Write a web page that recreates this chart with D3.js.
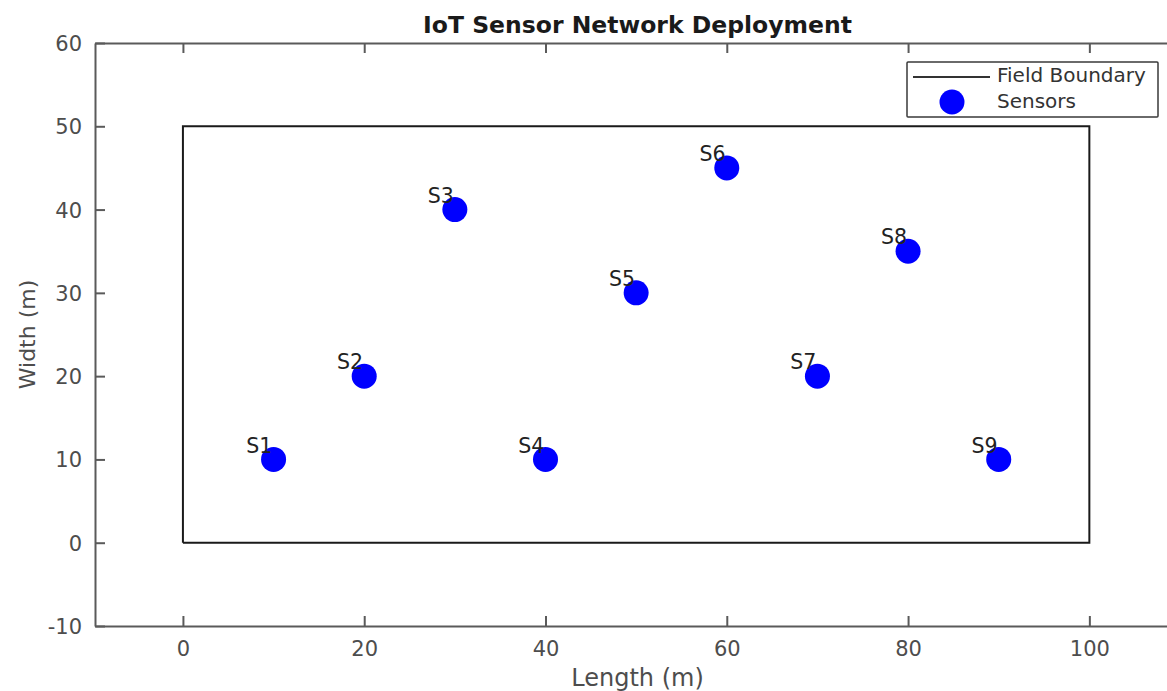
<!DOCTYPE html>
<html>
<head>
<meta charset="utf-8">
<script src="https://cdn.jsdelivr.net/npm/d3@7"></script>
<style>
  body { margin: 0; background: #fff; }
  svg { display: block; }
  .tick text { font-family: "DejaVu Sans", sans-serif; font-size: 21px; fill: #4d4d4d; }
</style>
</head>
<body>
<svg id="chart" width="1167" height="691"></svg>
<script>
// sensor positions (m)
var sensorNames = ["S1", "S2", "S3", "S4", "S5", "S6", "S7", "S8", "S9"];
var sensorX = [10, 20, 30, 40, 50, 60, 70, 80, 90];
var sensorY = [10, 20, 40, 10, 30, 45, 20, 35, 10];

// field corners
var fieldX = [0, 100, 100, 0, 0];
var fieldY = [0, 0, 50, 50, 0];

var xTicks = [0, 20, 40, 60, 80, 100];
var yTicks = [-10, 0, 10, 20, 30, 40, 50, 60];

var svg = d3.select("#chart");
var axisColor = "#5a5a5a";
var font = "DejaVu Sans, sans-serif";

var mLeft = 95, mRight = 1180, mTop = 43, mBottom = 626;

var x = d3.scaleLinear().domain([-9.7, 110]).range([mLeft, mRight]);
var y = d3.scaleLinear().domain([-10, 60]).range([mBottom, mTop]);

function plainNum(d) { return String(d); } // hyphen minus like matlab

// axes (ticks inward, box)
var gx = svg.append("g").attr("transform", "translate(0," + mBottom + ")")
	.call(d3.axisBottom(x).tickValues(xTicks).tickSizeInner(-10).tickSizeOuter(0).tickPadding(14).tickFormat(plainNum));
var gy = svg.append("g").attr("transform", "translate(" + mLeft + ",0)")
	.call(d3.axisLeft(y).tickValues(yTicks).tickSizeInner(-10).tickSizeOuter(0).tickPadding(13).tickFormat(plainNum));
var gt = svg.append("g").attr("transform", "translate(0," + mTop + ")")
	.call(d3.axisTop(x).tickValues(xTicks).tickSizeInner(-10).tickSizeOuter(0).tickFormat(""));
var gr = svg.append("g").attr("transform", "translate(" + mRight + ",0)")
	.call(d3.axisRight(y).tickValues(yTicks).tickSizeInner(-10).tickSizeOuter(0).tickFormat(""));

[gx, gy, gt, gr].forEach(function(g) {
	g.select(".domain").attr("stroke", axisColor).attr("stroke-width", 2);
	g.selectAll(".tick line").attr("stroke", axisColor).attr("stroke-width", 2);
});
gx.selectAll(".tick text").attr("dy", "0.76em");
gy.selectAll(".tick text").attr("dy", "0.36em");

// field boundary
var line = d3.line().x(function(d) { return x(d[0]); }).y(function(d) { return y(d[1]); });
svg.append("path")
	.datum(d3.zip(fieldX, fieldY))
	.attr("d", line)
	.attr("fill", "none")
	.attr("stroke", "#1a1a1a")
	.attr("stroke-width", 2);

// sensors
var sensors = sensorNames.map(function(n, i) { return {name: n, x: sensorX[i], y: sensorY[i]}; });
svg.selectAll(".sensor").data(sensors).enter().append("circle")
	.attr("class", "sensor")
	.attr("cx", function(d) { return x(d.x); })
	.attr("cy", function(d) { return y(d.y); })
	.attr("r", 12.5)
	.attr("fill", "#0000ff");

svg.selectAll(".lbl").data(sensors).enter().append("text")
	.attr("class", "lbl")
	.attr("x", function(d) { return x(d.x - 3); })
	.attr("y", function(d) { return y(d.y + 1.7); })
	.attr("dy", "0.36em")
	.attr("font-family", font)
	.attr("font-size", 20.5)
	.attr("fill", "#222")
	.text(function(d) { return d.name; });

// title and labels
svg.append("text")
	.attr("x", (mLeft + mRight) / 2).attr("y", 33)
	.attr("text-anchor", "middle")
	.attr("font-family", font)
	.attr("font-weight", "bold")
	.attr("font-size", 23.5)
	.attr("fill", "#1a1a1a")
	.text("IoT Sensor Network Deployment");

svg.append("text")
	.attr("x", (mLeft + mRight) / 2).attr("y", 686)
	.attr("text-anchor", "middle")
	.attr("font-family", font)
	.attr("font-size", 24)
	.attr("fill", "#4d4d4d")
	.text("Length (m)");

svg.append("text")
	.attr("transform", "translate(35," + (mTop + mBottom) / 2 + ") rotate(-90)")
	.attr("text-anchor", "middle")
	.attr("font-family", font)
	.attr("font-size", 22)
	.attr("fill", "#4d4d4d")
	.text("Width (m)");

// legend
var lg = svg.append("g").attr("transform", "translate(907,62)");
lg.append("rect").attr("width", 251).attr("height", 55)
	.attr("fill", "#fff").attr("stroke", "#3a3a3a").attr("stroke-width", 1.5).attr("rx", 1);
lg.append("line").attr("x1", 6).attr("x2", 83).attr("y1", 15).attr("y2", 15)
	.attr("stroke", "#333").attr("stroke-width", 2);
lg.append("circle").attr("cx", 45).attr("cy", 40).attr("r", 12.5).attr("fill", "#0000ff");
lg.append("text").attr("x", 90).attr("y", 13).attr("dy", "0.36em")
	.attr("font-family", font).attr("font-size", 20).attr("fill", "#333")
	.text("Field Boundary");
lg.append("text").attr("x", 90).attr("y", 39).attr("dy", "0.36em")
	.attr("font-family", font).attr("font-size", 20).attr("fill", "#333")
	.text("Sensors");
</script>
</body>
</html>
